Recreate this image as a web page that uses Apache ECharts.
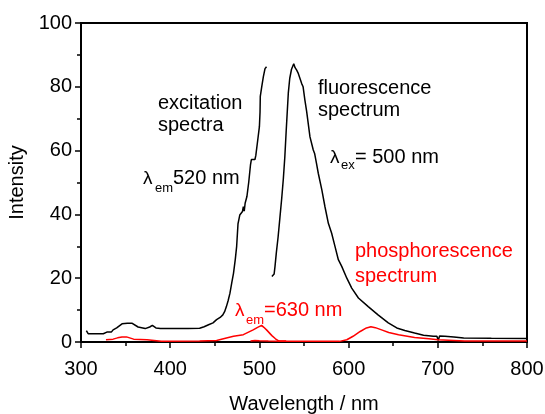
<!DOCTYPE html>
<html>
<head>
<meta charset="utf-8">
<script src="https://cdn.jsdelivr.net/npm/echarts@6/dist/echarts.min.js"></script>
<style>
html,body{margin:0;padding:0;background:#fff;}
#chart{width:545px;height:414px;}
</style>
</head>
<body>
<div id="chart"></div>
<script>
// ---- data ----
var xTicks = [300, 400, 500, 600, 700, 800];
var yTicks = [0, 20, 40, 60, 80, 100];

var excWl  = [306,308,316,325,329,334,336,340,346,352,357,359,364,372,377,380,384,389,400,420,433,438,443,448,452,456,459,461,463,465,467,469,471,473,474.5,476,478,480,481,482,483,484,486,488,490,491,493,495,496,498,500,500.7,501,502.6,504.4,506.3,508];
var excVal = [3.6,2.6,2.6,2.6,3.1,3.1,3.8,4.4,5.7,5.9,5.9,5.7,4.7,4.2,4.7,5.2,4.4,4.2,4.2,4.2,4.3,4.8,5.4,6.0,7.0,7.7,8.5,9.5,11.1,13.0,15.3,18.5,21.6,26.0,30.0,37.0,39.8,40.4,40.9,42.4,41.0,43.5,45.6,50.0,55.5,57.2,57.5,57.2,58.5,63.0,67.5,72.0,77.0,80.0,83.1,85.7,86.3];

var fluWl  = [514,516.5,517.5,519,521,523,525,526.8,528.5,530,531,532.4,534,536,538.5,540,541.8,543.6,547.4,549,551,553,556.7,560.4,562,564,566,570,573.5,577.3,581,584.8,588.5,592.3,598,603.5,605,611,622,633,644.5,654,663,674,684,695,699,700.5,702,708,718,729,760,800];
var fluVal = [20.5,21.3,23.7,28,33,39,45,51,58,66,71,78,82.6,85.5,87.2,86,85.2,84.2,81,80,75.8,72.2,64.3,60.2,59,56,52.9,47.7,42.4,37.2,34.1,29.9,25.8,23.7,20,16.9,16.4,13.8,11.1,8.5,6.0,4.4,3.6,2.8,2.1,1.8,1.8,0.5,1.9,1.8,1.6,1.25,1.15,1.1];

var phExWl  = [328,336,341,346,351,359,374,390,433,452,463,471,482,493,498,502.5,505,508,514,518,522,530];
var phExVal = [0.7,0.9,1.3,1.6,1.6,0.9,0.7,0.2,0.3,0.5,1.25,1.8,2.3,3.8,4.6,5.2,4.6,3.8,2.0,1.0,0.3,0.3];

var phEmWl  = [490,495,500,510,525,590,598,605,613,620,625,630,637,645,656,674,690,700,730,800];
var phEmVal = [0.3,0.5,0.4,0.3,0.2,0.2,0.7,1.8,3.3,4.4,4.8,4.5,3.8,3.0,2.3,1.4,1.0,0.7,0.3,0.3];

function zip(a, b) { return a.map(function (v, i) { return [v, b[i]]; }); }

var FONT = '"Liberation Sans", Arial, Helvetica, sans-serif';
var RED = '#ff0000';

var chart = echarts.init(document.getElementById('chart'), null, {renderer: 'canvas'});

// x, baseline y
function txt(x, base, text, size, color) {
  return {
    type: 'text', x: x, y: base - Math.round(size * 0.86), silent: true,
    style: {text: text, font: size + 'px ' + FONT, fill: color || '#000', verticalAlign: 'top', align: 'left'}
  };
}

var option = {
  animation: false,
  backgroundColor: '#fff',
  grid: {left: 81, right: 18, top: 23, bottom: 72, outerBoundsMode: 'none', containLabel: false,
         show: true, borderColor: '#000', borderWidth: 2, backgroundColor: 'transparent'},
  xAxis: {
    type: 'value', min: xTicks[0], max: xTicks[xTicks.length - 1], interval: 100,
    name: 'Wavelength / nm', nameLocation: 'middle', nameGap: 52,
    nameTextStyle: {color: '#000', fontSize: 20, fontFamily: FONT},
    axisLine: {show: true, lineStyle: {color: '#000', width: 2}},
    axisTick: {show: true, inside: false, length: 6, lineStyle: {color: '#000', width: 1.5}},
    minorTick: {show: true, splitNumber: 2, length: 4, lineStyle: {color: '#000', width: 1.5}},
    splitLine: {show: false},
    axisLabel: {color: '#000', fontSize: 20, fontFamily: FONT, margin: 17}
  },
  yAxis: {
    type: 'value', min: yTicks[0], max: yTicks[yTicks.length - 1], interval: 20,
    name: 'Intensity', nameLocation: 'middle', nameGap: 45,
    nameTextStyle: {color: '#000', fontSize: 20, fontFamily: FONT},
    axisLine: {show: true, lineStyle: {color: '#000', width: 2}},
    axisTick: {show: true, inside: false, length: 6, lineStyle: {color: '#000', width: 1.5}},
    minorTick: {show: true, splitNumber: 2, length: 4, lineStyle: {color: '#000', width: 1.5}},
    splitLine: {show: false},
    axisLabel: {color: '#000', fontSize: 20, fontFamily: FONT, margin: 9}
  },
  series: [
    {name: 'excitation spectra', type: 'line', data: zip(excWl, excVal), showSymbol: false, lineStyle: {color: '#000', width: 1.5}, itemStyle: {color: '#000'}},
    {name: 'fluorescence spectrum', type: 'line', data: zip(fluWl, fluVal), showSymbol: false, lineStyle: {color: '#000', width: 1.5}, itemStyle: {color: '#000'}},
    {name: 'phosphorescence excitation', type: 'line', data: zip(phExWl, phExVal), showSymbol: false, lineStyle: {color: RED, width: 1.5}, itemStyle: {color: RED}},
    {name: 'phosphorescence spectrum', type: 'line', data: zip(phEmWl, phEmVal), showSymbol: false, lineStyle: {color: RED, width: 1.5}, itemStyle: {color: RED}}
  ],
  graphic: [
    txt(158, 110, 'excitation', 20),
    txt(158, 132, 'spectra', 20),
    txt(143, 185, 'λ', 19),
    txt(155, 193, 'em', 13),
    txt(173, 185, '520 nm', 20),
    txt(318, 95, 'fluorescence', 20),
    txt(318, 117, 'spectrum', 20),
    txt(330, 164, 'λ', 19),
    txt(341, 170, 'ex', 13),
    txt(355, 164, '= 500 nm', 20),
    txt(355, 258, 'phosphorescence', 20, RED),
    txt(355, 283, 'spectrum', 20, RED),
    txt(235, 317, 'λ', 19, RED),
    txt(246, 325, 'em', 13, RED),
    txt(264, 317, '=630 nm', 20, RED)
  ]
};
chart.setOption(option);
</script>
</body>
</html>
